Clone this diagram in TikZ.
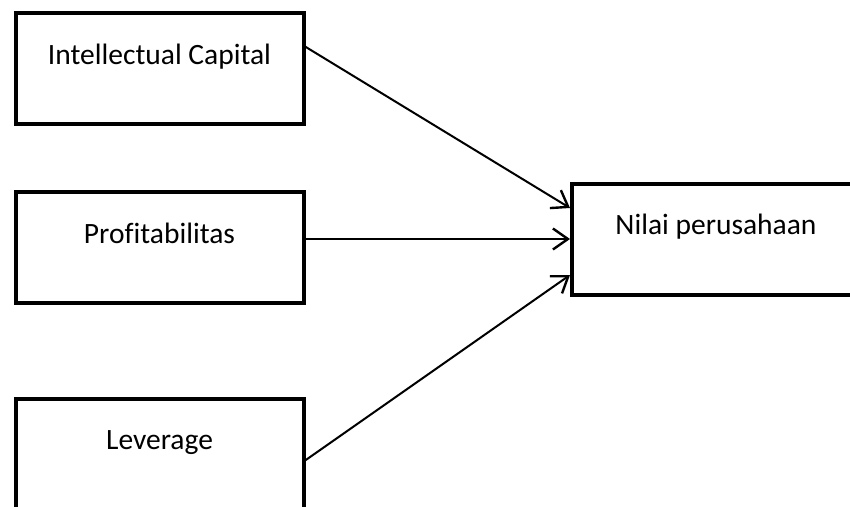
\documentclass[tikz,border=0pt]{standalone}
\usepackage{fontspec}
\setmainfont{Carlito}[Ligatures=NoCommon]
\usepackage{tikz}
\usetikzlibrary{arrows.meta, positioning, calc}
\tikzset{
    varbox/.style={draw, rectangle, line width=4pt, minimum width=288pt, minimum height=111pt,
        font=\fontsize{29.5}{34}\selectfont, align=center, text height=20pt, text depth=29pt},
    effectarrow/.style={-{Straight Barb[length=15pt, width=21pt, line width=2.4pt]}, line width=2pt},
}

\begin{document}
\begin{tikzpicture}[x=1pt, y=-1pt]
    \useasboundingbox (0,0) rectangle (850,506);
    \clip (0,0) rectangle (850,506);
    \fill[white] (0,0) rectangle (850,506);

    % Independent variables
    \node[varbox] (ic) at (159.5, 68.8) {Intellectual Capital};
    \node[varbox] (prof) at (159.5, 247.8) {Profitabilitas};
    \node[varbox] (lev) at (159.5, 454.2) {Leverage};

    % Dependent variable
    \node[varbox] (nilai) at (716, 239) {Nilai perusahaan};

    \draw[effectarrow] ([yshift=22pt]ic.east) -- ([yshift=31pt]nilai.west);
    \draw[effectarrow] (prof.east |- nilai.west) -- (nilai.west);
    \draw[effectarrow] ([yshift=-6pt]lev.east) -- ([yshift=-36pt]nilai.west);
\end{tikzpicture}
\end{document}
